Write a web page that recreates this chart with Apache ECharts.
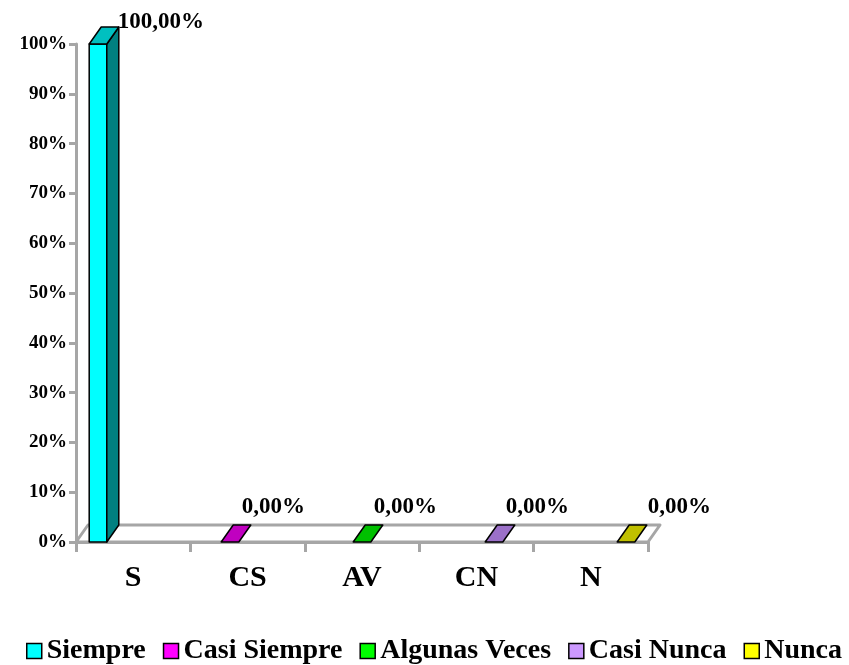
<!DOCTYPE html>
<html>
<head>
<meta charset="utf-8">
<script src="https://cdn.jsdelivr.net/npm/echarts@6/dist/echarts.min.js"></script>
<style>html,body{margin:0;padding:0;background:#fff;}#c{width:849px;height:665px;}</style>
</head>
<body>
<div id="c"></div>
<script>
// ---- data ----
const categories = ['S', 'CS', 'AV', 'CN', 'N'];
const seriesNames = ['Siempre', 'Casi Siempre', 'Algunas Veces', 'Casi Nunca', 'Nunca'];
const seriesValues = [100, 0, 0, 0, 0]; // series i is plotted in category i
const yTickValues = [0, 10, 20, 30, 40, 50, 60, 70, 80, 90, 100];

// ---- style ----
const frontColors = ['#00FFFF', '#FF00FF', '#00FF00', '#CC99FF', '#FFFF00'];
const topColors = ['#00C0C0', '#C000C0', '#00C000', '#9B70C8', '#C0C000'];
const sideColors = ['#008080', '#800080', '#008000', '#664C80', '#808000'];
const DX = 12, DY = -17;
const FONT = '"Liberation Serif", "Times New Roman", serif';
const GRAY = '#A6A6A6';

const chart = echarts.init(document.getElementById('c'));

function barRender(sIdx) {
  return function (params, api) {
    const cat = api.value(0);
    const val = api.value(1);
    const base = api.coord([cat, 0]);
    const top = api.coord([cat, val]);
    const band = api.size([1, 0])[0];
    const nS = seriesNames.length;
    const bw = band / (nS + 1.5);
    const xl = base[0] - band / 2 + 0.75 * bw + sIdx * bw;
    const xr = xl + bw;
    const y0 = base[1], y1 = top[1];
    const stroke = { stroke: '#000', lineWidth: 1.5, lineJoin: 'round' };
    const children = [];
    if (y0 - y1 > 0.5) {
      children.push({ type: 'polygon', shape: { points: [[xl, y1], [xr, y1], [xr, y0], [xl, y0]] },
        style: Object.assign({ fill: frontColors[sIdx] }, stroke) });
      children.push({ type: 'polygon', shape: { points: [[xr, y1], [xr + DX, y1 + DY], [xr + DX, y0 + DY], [xr, y0]] },
        style: Object.assign({ fill: sideColors[sIdx] }, stroke) });
    }
    children.push({ type: 'polygon', shape: { points: [[xl, y1], [xr, y1], [xr + DX, y1 + DY], [xl + DX, y1 + DY]] },
      style: Object.assign({ fill: topColors[sIdx] }, stroke) });
    const labelY = val > 0 ? y1 - 22 : y1 - 35;
    const labelX = val > 0 ? xr + 11 : xr + 3 + (sIdx === nS - 1 ? 10 : 0);
    children.push({ type: 'text', x: labelX, y: labelY,
      style: { text: val.toFixed(2).replace('.', ',') + '%', fontFamily: FONT, fontWeight: 'bold',
        fontSize: 23, fill: '#000', align: 'left', verticalAlign: 'middle' } });
    return { type: 'group', children: children };
  };
}

const series = [{
  type: 'custom',
  name: '__floor',
  silent: true,
  z: 1,
  data: [[0, 0]],
  renderItem: function (params, api) {
    const cs = params.coordSys;
    const y0 = api.coord([0, 0])[1];
    const x0 = cs.x, x1 = cs.x + cs.width;
    return {
      type: 'polygon',
      shape: { points: [[x0, y0], [x1, y0], [x1 + DX, y0 + DY], [x0 + DX, y0 + DY]] },
      style: { fill: '#fff', stroke: GRAY, lineWidth: 3, lineJoin: 'round' }
    };
  }
}];

seriesNames.forEach(function (name, i) {
  const data = categories.map(function (c, j) { return j === i ? [j, seriesValues[i]] : null; }).filter(Boolean);
  series.push({
    type: 'custom',
    name: name,
    z: 3,
    itemStyle: { color: frontColors[i], borderColor: '#000', borderWidth: 1.5 },
    data: data,
    renderItem: barRender(i)
  });
});

chart.setOption({
  animation: false,
  backgroundColor: '#fff',
  grid: { left: 76, top: 44, width: 572, bottom: 123, containLabel: false },
  legend: {
    data: seriesNames,
    top: 632,
    left: 21,
    width: 828,
    padding: 5,
    icon: 'rect',
    itemWidth: 15,
    itemHeight: 15,
    itemGap: 17,
    textStyle: { fontFamily: FONT, fontWeight: 'bold', fontSize: 28, color: '#000' },
    itemStyle: { borderColor: '#000', borderWidth: 1.5 }
  },
  xAxis: {
    type: 'category',
    data: categories,
    boundaryGap: true,
    axisLine: { show: true, lineStyle: { color: GRAY, width: 3 } },
    axisTick: { show: true, length: 10, lineStyle: { color: GRAY, width: 3 } },
    axisLabel: { margin: 21, fontFamily: FONT, fontWeight: 'bold', fontSize: 30, color: '#000' },
    splitLine: { show: false },
    z: 2
  },
  yAxis: {
    type: 'value',
    min: yTickValues[0],
    max: yTickValues[yTickValues.length - 1],
    interval: yTickValues[1] - yTickValues[0],
    axisLine: { show: true, lineStyle: { color: GRAY, width: 3 } },
    axisTick: { show: true, length: 7, lineStyle: { color: GRAY, width: 3 } },
    axisLabel: { margin: 9, formatter: '{value}%', fontFamily: FONT, fontWeight: 'bold', fontSize: 19, color: '#000' },
    splitLine: { show: false }
  },
  series: series
});
</script>
</body>
</html>
